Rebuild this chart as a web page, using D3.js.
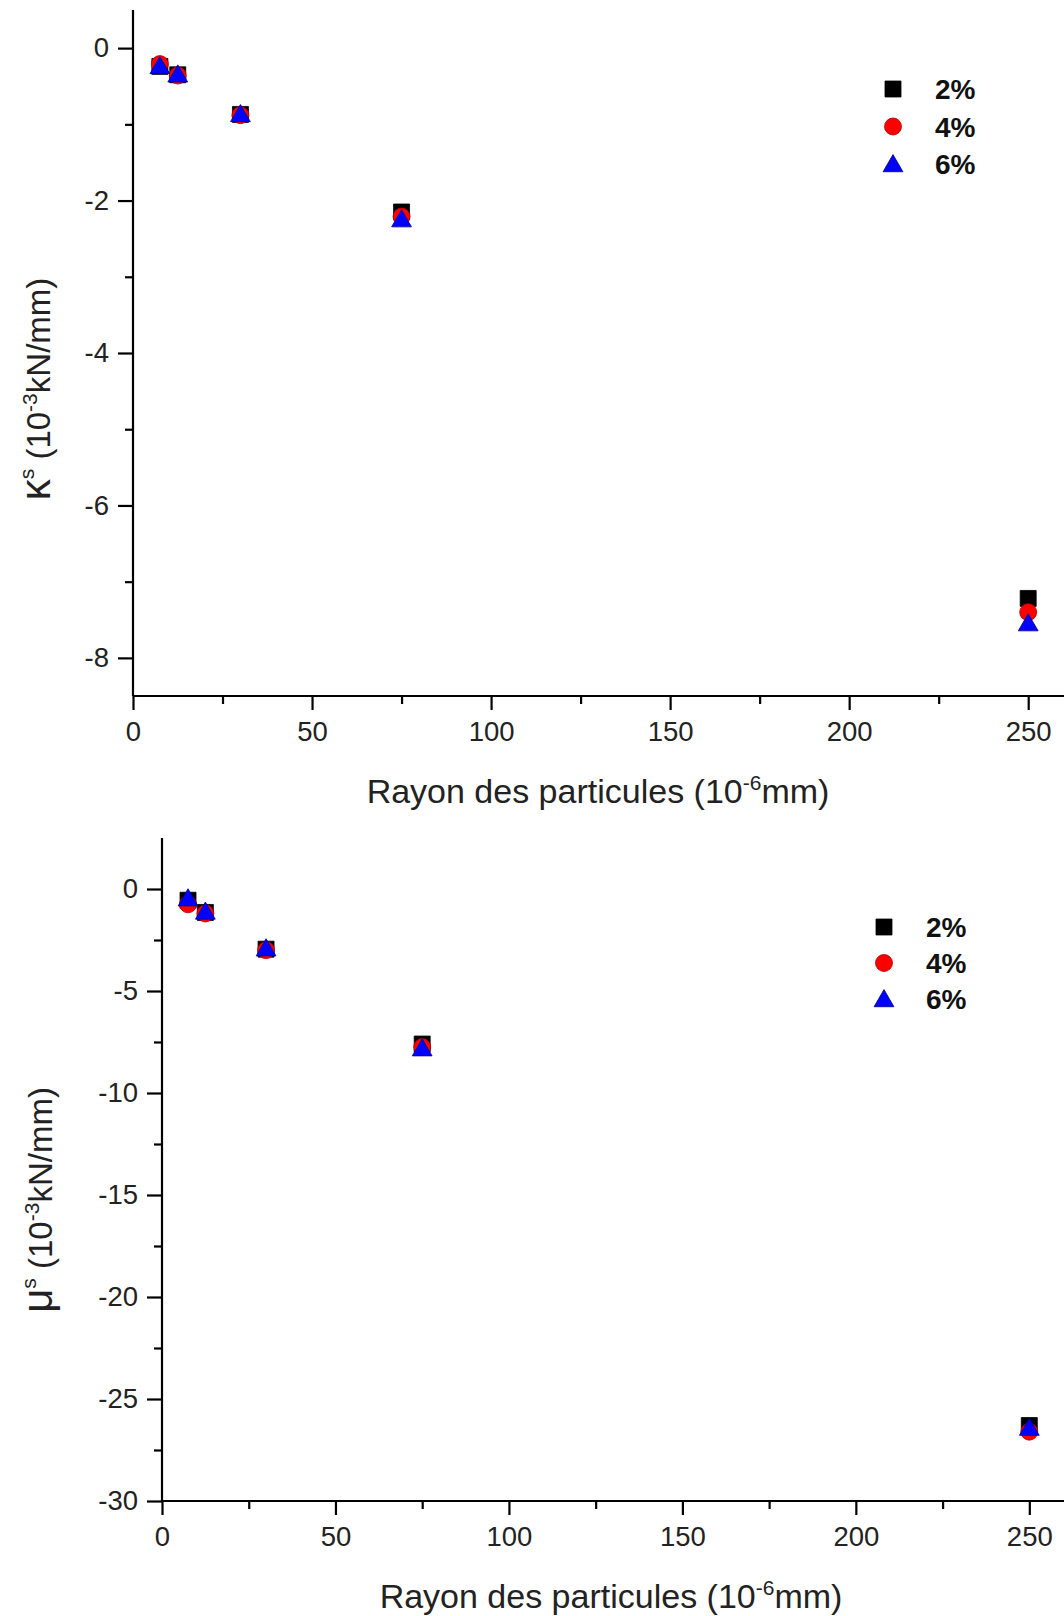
<!DOCTYPE html>
<html><head><meta charset="utf-8">
<script src="https://cdn.jsdelivr.net/npm/d3@7"></script>
<style>body{margin:0;background:#fff}svg{display:block;font-family:"Liberation Sans",Arial,sans-serif}</style>
</head><body><svg id="c" width="1064" height="1616"></svg>
<script>
const radius = [7.5, 12.5, 30, 75, 250];
const seriesNames = ["2%", "4%", "6%"];
const kappa2 = [-0.24, -0.35, -0.87, -2.15, -7.22];
const kappa4 = [-0.21, -0.36, -0.88, -2.21, -7.40];
const kappa6 = [-0.26, -0.37, -0.89, -2.27, -7.57];
const mu2 = [-0.55, -1.15, -2.95, -7.6, -26.3];
const mu4 = [-0.75, -1.2, -3.0, -7.75, -26.6];
const mu6 = [-0.55, -1.2, -3.0, -7.9, -26.5];
const kappaTicks = [0, -2, -4, -6, -8];
const muTicks = [0, -5, -10, -15, -20, -25, -30];
const xTicks = [0, 50, 100, 150, 200, 250];

const colors = ["#000000", "#ff0000", "#0000ff"];
const strokes = ["#000000", "#b00000", "#00008b"];
const shapes = [d3.symbolSquare, d3.symbolCircle, d3.symbolTriangle];
const sizes = [256, 227, 170];

const svg = d3.select("#c");

function chart(cfg) {
  const g = svg.append("g");
  const x = d3.scaleLinear().domain([0, 260]).range([cfg.x0, 1064]);
  const y = d3.scaleLinear().domain(cfg.yDomain).range([cfg.yBottom, cfg.yTop]);
  const ya = d3.axisLeft(y).tickValues(cfg.yTicks).tickSize(15).tickPadding(9).tickFormat(d => d3.format("d")(d).replace("−", "-"));
  const yg = g.append("g").attr("transform", `translate(${cfg.x0},0)`).call(ya);
  const yMinor = d3.axisLeft(y).tickValues(cfg.yMinor).tickSize(8).tickFormat("");
  const ymg = g.append("g").attr("transform", `translate(${cfg.x0},0)`).call(yMinor);
  const xa = d3.axisBottom(x).tickValues(xTicks).tickSize(14).tickPadding(11);
  const xg = g.append("g").attr("transform", `translate(0,${cfg.yBottom})`).call(xa);
  const xMinor = d3.axisBottom(x).tickValues([25, 75, 125, 175, 225]).tickSize(8).tickFormat("");
  const xmg = g.append("g").attr("transform", `translate(0,${cfg.yBottom})`).call(xMinor);
  [yg, ymg, xg, xmg].forEach(a => {
    a.select(".domain").attr("stroke", "#000").attr("stroke-width", 2.2);
    a.selectAll(".tick line").attr("stroke", "#000").attr("stroke-width", 2.2);
    a.selectAll(".tick text").attr("font-size", 27.5).attr("fill", "#222").attr("font-family", "Liberation Sans, Arial, sans-serif");
  });
  ymg.select(".domain").remove(); xmg.select(".domain").remove();
  yg.select(".domain").attr("d", `M0,${cfg.yTop}V${cfg.yBottom}`);
  xg.select(".domain").attr("d", `M${cfg.x0},0H1064`);

  cfg.series.forEach((vals, si) => {
    g.append("g").selectAll("path").data(vals).join("path")
      .attr("d", d3.symbol().type(shapes[si]).size(sizes[si]))
      .attr("transform", (v, i) => `translate(${x(radius[i])},${y(v)})`)
      .attr("fill", colors[si]).attr("stroke", strokes[si]).attr("stroke-width", 0.8);
  });

  seriesNames.forEach((n, si) => {
    const ly = cfg.legY + si * cfg.legDy;
    g.append("path").attr("d", d3.symbol().type(shapes[si]).size(sizes[si]))
      .attr("transform", `translate(${cfg.legX},${ly + (si === 2 ? 2 : 0)})`)
      .attr("fill", colors[si]).attr("stroke", strokes[si]).attr("stroke-width", 0.8);
    g.append("text").attr("x", cfg.legX + 42).attr("y", ly).attr("dy", "0.36em")
      .attr("font-size", 28).attr("font-weight", "bold").attr("fill", "#111").text(n);
  });

  const xt = g.append("text").attr("x", cfg.xtX).attr("y", cfg.xtY).attr("text-anchor", "middle")
    .attr("font-size", 34).attr("fill", "#222");
  xt.append("tspan").text("Rayon des particules (10");
  xt.append("tspan").attr("dy", -13).attr("font-size", 21).text("-6");
  xt.append("tspan").attr("dy", 13).text("mm)");

  const yt = g.append("text").attr("transform", `translate(${cfg.ytX},${cfg.ytY}) rotate(-90)`)
    .attr("text-anchor", "middle").attr("font-size", 33).attr("fill", "#222");
  yt.append("tspan").attr("font-size", 42).text(cfg.sym);
  yt.append("tspan").attr("dy", -16).attr("font-size", 21).text("s");
  yt.append("tspan").attr("dy", 16).text(" (10");
  yt.append("tspan").attr("dy", -13).attr("font-size", 21).text("-3");
  yt.append("tspan").attr("dy", 13).text("kN/mm)");
}

chart({
  x0: 133, yTop: 10, yBottom: 696, yDomain: [-8.5, 0.5],
  yTicks: kappaTicks, yMinor: [-1, -3, -5, -7],
  series: [kappa2, kappa4, kappa6],
  legX: 893, legY: 89, legDy: 37.5,
  xtX: 598, xtY: 803, ytX: 50, ytY: 389, sym: "κ"
});
chart({
  x0: 162, yTop: 838, yBottom: 1501, yDomain: [-30, 2.5],
  yTicks: muTicks, yMinor: [-2.5, -7.5, -12.5, -17.5, -22.5, -27.5],
  series: [mu2, mu4, mu6],
  legX: 884, legY: 927, legDy: 36,
  xtX: 611, xtY: 1608, ytX: 52, ytY: 1200, sym: "μ"
});
</script></body></html>
